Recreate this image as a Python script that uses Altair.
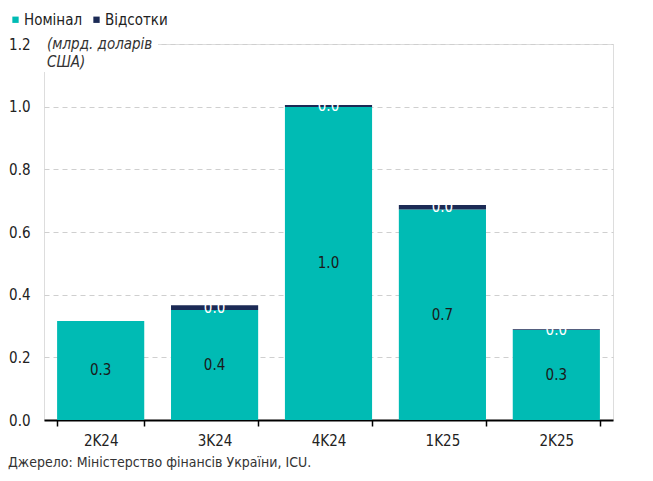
import altair as alt
import pandas as pd

quarters = ["2K24", "3K24", "4K24", "1K25", "2K25"]
nominal = [0.316, 0.351, 0.999, 0.672, 0.287]
interest = [0.0, 0.015, 0.006, 0.014, 0.003]
series = ["Номінал", "Відсотки"]
colors = ["#00BBB4", "#1B2A55"]
label_colors = ["#1a1a1a", "#ffffff"]
y_ticks = [0.0, 0.2, 0.4, 0.6, 0.8, 1.0, 1.2]
unit_text = ["(млрд. доларів", "США)"]
source_text = "Джерело: Міністерство фінансів України, ICU."

FONT = "Liberation Sans Narrow, DejaVu Sans Condensed, Roboto Condensed, sans-serif"

rows = []
for i, q in enumerate(quarters):
    rows.append({"q": q, "s": series[0], "v": nominal[i], "ord": 0, "lc": label_colors[0]})
    rows.append({"q": q, "s": series[1], "v": interest[i], "ord": 1, "lc": label_colors[1]})
df = pd.DataFrame(rows)

base = alt.Chart(df).transform_stack(
    stack="v", groupby=["q"], sort=[alt.SortField("ord")], as_=["y0", "y1"]
).transform_calculate(mid="(datum.y0 + datum.y1) / 2")

x_enc = alt.X("q:N", sort=quarters, title=None,
              scale=alt.Scale(paddingInner=0.235, paddingOuter=0.115),
              axis=alt.Axis(labelAngle=0, labelFontSize=15, labelColor="#222222",
                            labelFont=FONT, domainColor="#000000", domainWidth=1.8,
                            tickColor="#000000", tickSize=6, tickWidth=1.5,
                            tickBand="extent", labelPadding=7))
y_scale = alt.Scale(domain=[0, 1.2], nice=False)

bars = base.mark_bar().encode(
    x=x_enc,
    y=alt.Y("y0:Q", scale=y_scale, title=None,
            axis=alt.Axis(values=y_ticks, format=".1f", labelFontSize=15,
                          labelColor="#222222", labelFont=FONT, domain=False,
                          ticks=False, labelPadding=14, gridColor="#CFCFCF",
                          gridDash=[5, 4], gridWidth=1.2)),
    y2="y1:Q",
    color=alt.Color("s:N", scale=alt.Scale(domain=series, range=colors), title=None,
                    legend=alt.Legend(orient="none", legendX=-36, legendY=-32,
                                      direction="horizontal", symbolType="square",
                                      symbolSize=40, symbolStrokeWidth=0,
                                      labelFontSize=15, labelFont=FONT,
                                      labelColor="#222222", columnPadding=6,
                                      symbolOffset=0, labelOffset=1)),
    order=alt.Order("ord:Q"),
)

labels = base.transform_filter("datum.v > 0").mark_text(
    fontSize=15, font=FONT, baseline="middle"
).encode(
    x=alt.X("q:N", sort=quarters),
    y=alt.Y("mid:Q", scale=y_scale),
    text=alt.Text("v:Q", format=".1f"),
    color=alt.Color("lc:N", scale=None),
)

unit_bg = alt.Chart(pd.DataFrame({"a": [0]})).mark_rect(color="white").encode(
    x=alt.value(0), x2=alt.value(114), y=alt.value(-8), y2=alt.value(28)
)
unit = alt.Chart(pd.DataFrame({"t": [unit_text]})).mark_text(
    fontSize=15, font=FONT, fontStyle="italic", color="#333333",
    align="left", baseline="middle", lineHeight=18
).encode(x=alt.value(3), y=alt.value(0), text="t")

source = alt.Chart(pd.DataFrame({"t": [source_text]})).mark_text(
    fontSize=14, font=FONT, color="#333333", align="left", baseline="middle"
).encode(x=alt.value(-36), y=alt.value(419), text="t")

chart = alt.layer(bars, labels, unit_bg, unit, source).properties(
    width=569, height=376,
    autosize=alt.AutoSizeParams(type="none"),
    padding={"left": 36, "top": 36, "right": 30, "bottom": 53},
).configure_view(stroke=None).configure(font=FONT)

chart.save("out.html", embed_options={"renderer": "svg", "actions": False})
